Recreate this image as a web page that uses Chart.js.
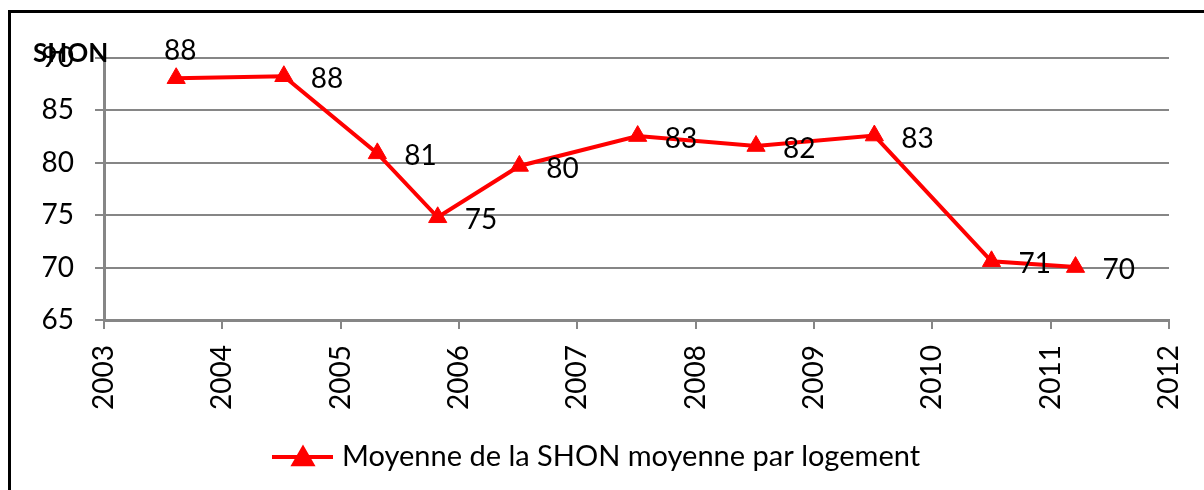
<!DOCTYPE html>
<html lang="fr">
<head>
  <meta charset="UTF-8">
  <title>Moyenne de la SHON moyenne par logement</title>
  <script src="https://cdn.jsdelivr.net/npm/chart.js"></script>
  <style>
    html, body {
      margin: 0;
      padding: 0;
      background: #ffffff;
      overflow: hidden;
    }
    .wrap {
      position: relative;
      width: 1204px;
      height: 490px;
    }
    .frame {
      position: absolute;
      left: 8px;
      top: 10px;
      width: 1300px;
      height: 600px;
      border-left: 3px solid #000;
      border-top: 3px solid #000;
    }
    canvas {
      position: absolute;
      left: 0;
      top: 0;
    }
  </style>
</head>
<body>
  <div class="wrap">
    <div class="frame"></div>
    <canvas id="shonChart" width="1204" height="490"></canvas>
  </div>

  <script>
    // values
    const years = [2003.61, 2004.52, 2005.31, 2005.82, 2006.51, 2007.51, 2008.51, 2009.51, 2010.50, 2011.21];
    const shon = [88.07, 88.26, 80.9, 74.8, 79.7, 82.55, 81.6, 82.6, 70.6, 70.05];
    const seriesLabel = 'Moyenne de la SHON moyenne par logement';
    const axisTitle = 'SHON';

    const FONT = 'Lato, "Open Sans", sans-serif';
    const RED = '#ff0000';
    const GRID = '#868686';

    // value labels next to each point
    const valueLabels = {
      id: 'valueLabels',
      afterDatasetsDraw(chart) {
        const ctx = chart.ctx;
        const meta = chart.getDatasetMeta(0);
        ctx.save();
        ctx.font = '28px ' + FONT;
        ctx.fillStyle = '#000';
        ctx.textBaseline = 'middle';
        meta.data.forEach((pt, i) => {
          const txt = String(Math.round(shon[i]));
          if (i === 0) {
            ctx.textAlign = 'center';
            ctx.fillText(txt, pt.x + 4, pt.y - 27);
          } else {
            ctx.textAlign = 'left';
            ctx.fillText(txt, pt.x + 27, pt.y + 3);
          }
        });
        ctx.restore();
      }
    };

    // axis title at the top-left and legend with line + marker
    const extras = {
      id: 'extras',
      afterDraw(chart) {
        const ctx = chart.ctx;
        ctx.save();
        ctx.font = 'bold 26px ' + FONT;
        ctx.fillStyle = '#000';
        ctx.textAlign = 'left';
        ctx.textBaseline = 'alphabetic';
        ctx.fillText(axisTitle, 33, 62);

        const ly = 457;
        ctx.strokeStyle = RED;
        ctx.lineWidth = 4;
        ctx.beginPath();
        ctx.moveTo(272, ly);
        ctx.lineTo(333, ly);
        ctx.stroke();
        Chart.helpers.drawPoint(ctx, {
          pointStyle: 'triangle', radius: 10.5, borderWidth: 1
        }, 303, ly + 2);
        ctx.fillStyle = RED;
        ctx.fill();

        ctx.font = '29px ' + FONT;
        ctx.fillStyle = '#000';
        ctx.textBaseline = 'middle';
        ctx.fillText(seriesLabel, 342, ly);
        ctx.restore();
      }
    };

    new Chart(document.getElementById('shonChart'), {
      type: 'line',
      data: {
        datasets: [{
          label: seriesLabel,
          data: years.map((y, i) => ({ x: y, y: shon[i] })),
          borderColor: RED,
          backgroundColor: RED,
          borderWidth: 4,
          pointStyle: 'triangle',
          pointRadius: 10.5,
          pointHoverRadius: 10.5,
          pointBorderWidth: 1,
          pointBackgroundColor: RED,
          pointBorderColor: RED,
          tension: 0
        }]
      },
      options: {
        responsive: false,
        animation: false,
        layout: { padding: { left: 0, right: 35, top: 58, bottom: 0 } },
        plugins: {
          legend: { display: false },
          tooltip: { enabled: false }
        },
        scales: {
          x: {
            type: 'linear',
            min: 2003,
            max: 2012,
            afterFit: s => {
              s.height = 170;
              s.paddingLeft = 0;
              s.paddingRight = 0;
            },
            ticks: {
              stepSize: 1,
              minRotation: 90,
              maxRotation: 90,
              padding: 16,
              color: '#000',
              font: { family: FONT, size: 28 },
              callback: v => String(v)
            },
            grid: {
              drawOnChartArea: false,
              color: GRID,
              lineWidth: 2,
              tickLength: 9
            },
            border: { display: true, color: GRID, width: 3 }
          },
          y: {
            min: 65,
            max: 90,
            afterFit: s => { s.width = 104; },
            ticks: {
              stepSize: 5,
              padding: 21,
              color: '#000',
              font: { family: FONT, size: 28 }
            },
            grid: {
              color: GRID,
              lineWidth: 2,
              tickLength: 9
            },
            border: { display: true, color: GRID, width: 3 }
          }
        }
      },
      plugins: [valueLabels, extras]
    });
  </script>
</body>
</html>
